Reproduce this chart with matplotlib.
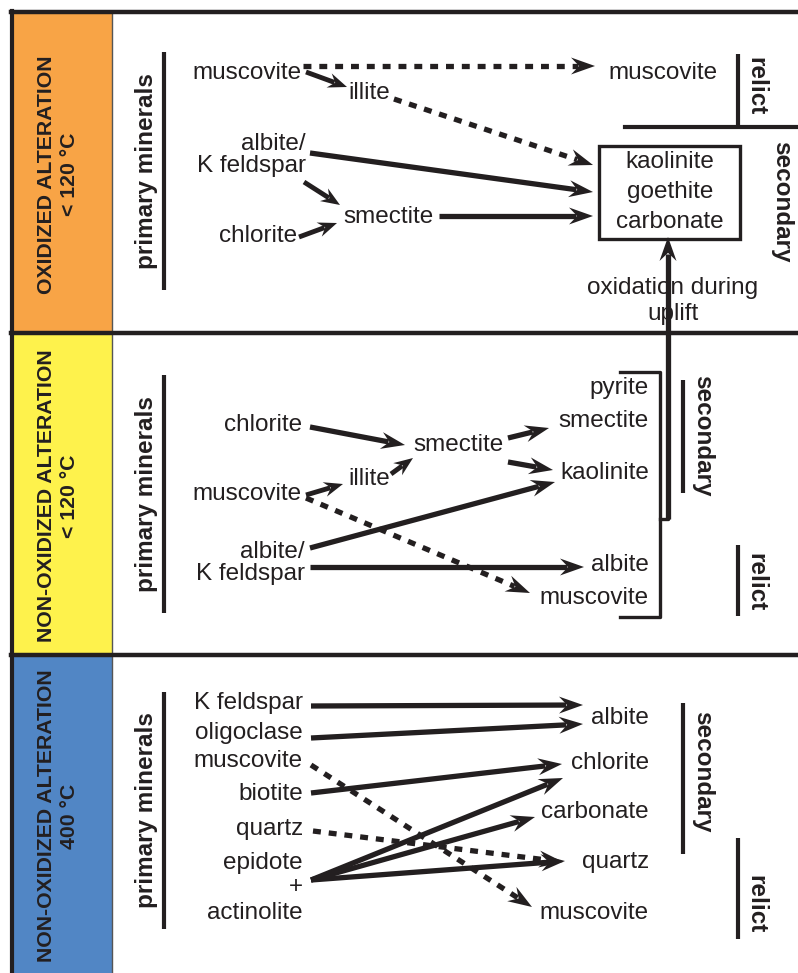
import matplotlib.pyplot as plt
import numpy as np
from matplotlib.patches import Polygon, Rectangle

# --- content -----------------------------------------------------------
panel_titles = ["OXIDIZED ALTERATION\n< 120 °C",
                "NON-OXIDIZED ALTERATION\n< 120 °C",
                "NON-OXIDIZED ALTERATION\n400 °C"]
panel_colors = ["#F8A446", "#FEF24C", "#5186C5"]

p1_primary = ["muscovite", "albite/\nK feldspar", "chlorite"]
p1_middle = ["illite", "smectite"]
p1_relict = ["muscovite"]
p1_secondary = ["kaolinite", "goethite", "carbonate"]
p1_note = "oxidation during\nuplift"

p2_primary = ["chlorite", "muscovite", "albite/\nK feldspar"]
p2_middle = ["illite", "smectite"]
p2_products = ["pyrite", "smectite", "kaolinite", "albite", "muscovite"]

p3_primary = ["K feldspar", "oligoclase", "muscovite", "biotite", "quartz",
              "epidote", "+", "actinolite"]
p3_products = ["albite", "chlorite", "carbonate", "quartz", "muscovite"]

# --- layout (pixel positions in the 798 x 973 canvas) ------------------
panel_tops = [12, 333, 655]
panel_bottoms = [333, 655, 973]

p1_primary_pos = [(302, 73), (306, 155), (297, 236)]
p1_middle_pos = [(348, 93), (343, 217)]
# (x0, y0, x1, y1, dashed, small head)
p1_arrows = [(303, 66, 595, 66, True, False),
             (306, 72, 347, 87, False, True),
             (394, 99, 593, 165, True, False),
             (310, 153, 593, 192, False, False),
             (304, 182, 340, 205, False, True),
             (299, 237, 337, 223, False, True),
             (439, 216, 593, 216, False, False),
             (668, 519, 668, 237, False, False)]

p2_primary_pos = [(302, 425), (302, 494), (305, 563)]
p2_middle_pos = [(348, 479), (413, 445)]
p2_products_y = [388, 421, 473, 565, 598]
p2_arrows = [(310, 427, 405, 445, False, False),
             (306, 495, 343, 484, False, True),
             (391, 474, 413, 458, False, True),
             (508, 438, 549, 428, False, False),
             (508, 462, 553, 470, False, False),
             (310, 548, 555, 482, False, False),
             (310, 567, 584, 567, False, False),
             (306, 498, 530, 593, True, False)]

p3_primary_y = [703, 733, 761, 794, 829, 863, 887, 913]
p3_products_y = [718, 763, 812, 862, 913]
p3_arrows = [(311, 706, 583, 705, False, False),
             (311, 738, 583, 724, False, False),
             (311, 793, 562, 764, False, False),
             (311, 880, 563, 778, False, False),
             (311, 880, 535, 817, False, False),
             (311, 880, 565, 861, False, False),
             (313, 831, 563, 862, True, False),
             (311, 765, 532, 907, True, False)]

INK = "#231F20"
FONT = "Liberation Sans"
FS = 17.5

fig = plt.figure(figsize=(7.98, 9.73), dpi=100)
ax = fig.add_axes([0, 0, 1, 1])
ax.set_xlim(0, 798)
ax.set_ylim(973, 0)
ax.axis("off")


def label(x, y, s, ha="left", **kw):
    kw.setdefault("linespacing", 1.0)
    ax.text(x, y, s, ha=ha, va="center", fontsize=FS,
            family=FONT, color=INK, **kw)


def arrow(x0, y0, x1, y1, dashed=False, small=False):
    hl, hw = (19, 15) if small else (24, 17)
    lw = 3.5 if small else 3.8
    tip = np.array([x1, y1], float)
    u = tip - np.array([x0, y0], float)
    u /= np.hypot(*u)
    n = np.array([-u[1], u[0]])
    base = tip - u * hl * 0.7
    kw = dict(dashes=(1.5, 1.5)) if dashed else {}
    ax.plot([x0, base[0]], [y0, base[1]], color=INK, lw=lw,
            solid_capstyle="butt", dash_capstyle="butt", **kw)
    pts = [tip, tip - u * hl + n * hw / 2, tip - u * hl * 0.66,
           tip - u * hl - n * hw / 2]
    ax.add_patch(Polygon(pts, closed=True, color=INK, lw=0))


def vbar(x, y0, y1, lw=3.0):
    ax.plot([x, x], [y0, y1], color=INK, lw=lw, solid_capstyle="butt")


# panel frames, coloured title column
for top, bot, col, title in zip(panel_tops, panel_bottoms, panel_colors, panel_titles):
    ax.add_patch(Rectangle((12, top), 100, bot - top, color=col, lw=0))
    ax.text(58, (top + bot) / 2 + 2, title, rotation=90, ha="center", va="center",
            fontsize=15.3, fontweight="bold", family=FONT, color=INK,
            multialignment="center", linespacing=1.25)
ax.plot([112, 112], [12, 973], color="#555555", lw=1.0)
ax.plot([12, 12], [10.5, 973], color=INK, lw=3.0)
for y in panel_tops:
    ax.plot([10.5, 798], [y, y], color=INK, lw=3.2)

# "primary minerals" on each panel
for top, bot, (y0, y1) in zip(panel_tops, panel_bottoms,
                              [(52, 290), (375, 613), (692, 929)]):
    ax.text(146, (y0 + y1) / 2, "primary minerals", rotation=90, ha="center",
            va="center", fontsize=FS, fontweight="bold", family=FONT, color=INK)
    vbar(164, y0, y1)

# ---- panel 1 ----
for s, (x, y) in zip(p1_primary, p1_primary_pos):
    label(x, y, s, ha="right", multialignment="right")
for s, (x, y) in zip(p1_middle, p1_middle_pos):
    label(x, y, s)
label(608, 73, p1_relict[0])
ax.add_patch(Rectangle((599, 146), 141, 93, fill=False, ec=INK, lw=2.4))
for s, y in zip(p1_secondary, [162, 192, 222]):
    label(670, y, s, ha="center")
label(673, 301, p1_note, ha="center", multialignment="center", linespacing=1.2)
vbar(738, 54, 127)
ax.plot([625, 798], [127, 127], color=INK, lw=3.0)
ax.text(756, 86, "relict", rotation=-90, ha="center", va="center",
        fontsize=FS, fontweight="bold", family=FONT, color=INK)
ax.text(782, 202, "secondary", rotation=-90, ha="center", va="center",
        fontsize=FS, fontweight="bold", family=FONT, color=INK)
for a in p1_arrows:
    arrow(*a)

# ---- panel 2 ----
for s, (x, y) in zip(p2_primary, p2_primary_pos):
    label(x, y, s, ha="right", multialignment="right")
for s, (x, y) in zip(p2_middle, p2_middle_pos):
    label(x, y, s)
for s, y in zip(p2_products, p2_products_y):
    label(649, y, s, ha="right")
ax.plot([620, 660, 660, 620], [372, 372, 617, 617], color=INK, lw=2.4)
ax.plot([668, 668, 660], [333, 519, 519], color=INK, lw=2.4)
vbar(683, 380, 493)
ax.text(703, 436, "secondary", rotation=-90, ha="center", va="center",
        fontsize=FS, fontweight="bold", family=FONT, color=INK)
vbar(738, 545, 616)
ax.text(756, 582, "relict", rotation=-90, ha="center", va="center",
        fontsize=FS, fontweight="bold", family=FONT, color=INK)
for a in p2_arrows:
    arrow(*a)

# ---- panel 3 ----
for s, y in zip(p3_primary, p3_primary_y):
    label(303, y, s, ha="right")
for s, y in zip(p3_products, p3_products_y):
    label(649, y, s, ha="right")
vbar(683, 703, 854)
ax.text(703, 772, "secondary", rotation=-90, ha="center", va="center",
        fontsize=FS, fontweight="bold", family=FONT, color=INK)
vbar(738, 838, 939)
ax.text(756, 904, "relict", rotation=-90, ha="center", va="center",
        fontsize=FS, fontweight="bold", family=FONT, color=INK)
for a in p3_arrows:
    arrow(*a)

fig.savefig("out.png", dpi=100)
